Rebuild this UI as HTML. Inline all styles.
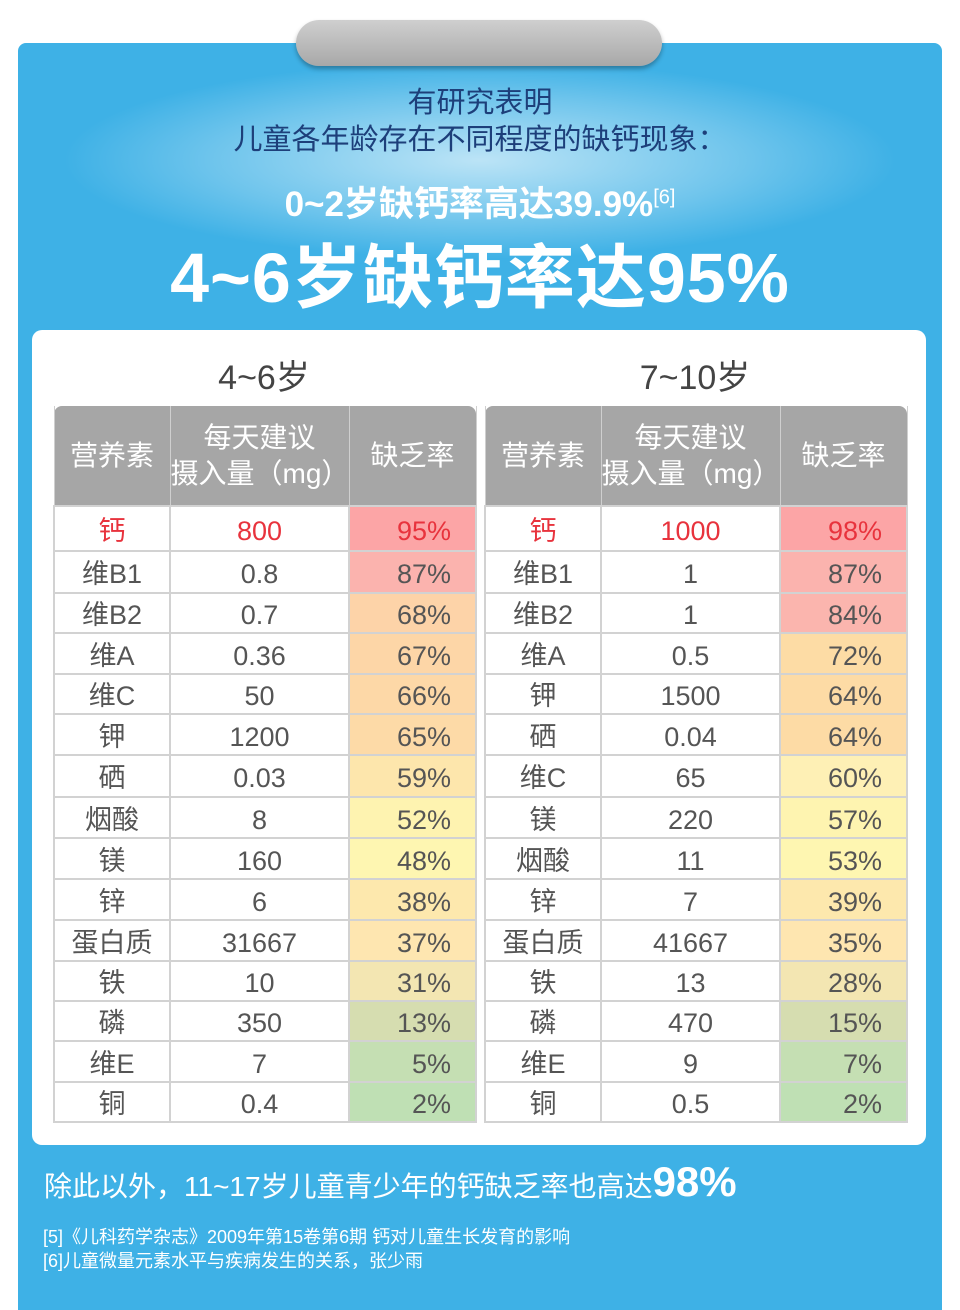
<!DOCTYPE html>
<html><head><meta charset="utf-8"><style>
*{margin:0;padding:0;box-sizing:border-box}
html,body{width:960px;height:1310px;overflow:hidden}
body{background:#fff;position:relative;font-family:"Liberation Sans","Noto Sans CJK SC",sans-serif}
.panel{position:absolute;left:18px;top:43px;width:924px;height:1290px;background:#3eb1e6;border-radius:8px}
.glow{position:absolute;left:60px;top:60px;width:840px;height:200px;background:radial-gradient(ellipse at center,rgba(255,255,255,.65) 0%,rgba(255,255,255,.25) 45%,rgba(255,255,255,0) 70%)}
.pill{position:absolute;left:296px;top:20px;width:366px;height:46px;border-radius:23px;background:linear-gradient(#cfcfcf,#a8a8a8);box-shadow:0 3px 5px rgba(0,0,0,.3)}
.t{position:absolute;left:0;width:960px;text-align:center}
.card{position:absolute;left:32px;top:330px;width:894px;height:815px;background:#fff;border-radius:10px}
table{position:absolute;border-collapse:collapse;font-size:27px;color:#555;table-layout:fixed}
td{border:2px solid #d2d2d2;text-align:center;padding:4px 0 0 0;line-height:28px;overflow:hidden}
th{background:#a6a6a6;color:#fff;font-weight:normal;font-size:28px;line-height:36px;border-left:1px solid #cfcfcf;border-right:1px solid #cfcfcf}
.r{color:#e8333d}
td.p{text-align:right;padding-right:24px}
</style></head><body>
<div class="panel"></div>
<div class="glow"></div>
<div class="pill"></div>
<div class="t" style="top:85px;font-size:29px;line-height:37px;color:#1d3f7a">有研究表明<br>儿童各年龄存在不同程度的缺钙现象：</div>
<div class="t" style="top:176px;font-size:35px;color:#fff;font-weight:bold">0~2岁缺钙率高达39.9%<sup style="font-size:20px;font-weight:normal">[6]</sup></div>
<div class="t" style="top:222px;font-size:70px;color:#fff;font-weight:bold;letter-spacing:1px">4~6岁缺钙率达95%</div>
<div class="card"></div>
<div style="position:absolute;left:53px;width:422px;top:350px;text-align:center;font-size:34px;color:#444">4~6岁</div>
<div style="position:absolute;left:484px;width:422px;top:350px;text-align:center;font-size:34px;color:#444">7~10岁</div>
<table style="left:53px;top:406px;width:422px">
<colgroup><col style="width:116px"><col style="width:179px"><col style="width:127px"></colgroup>
<tr style="height:100px"><th style="border-radius:8px 0 0 0">营养素</th><th>每天建议<br>摄入量（mg）</th><th style="border-radius:0 8px 0 0">缺乏率</th></tr>
<tr style="height:45px" class="r"><td>钙</td><td>800</td><td class="p" style="background:#fca5a6">95%</td></tr>
<tr style="height:42px"><td>维B1</td><td>0.8</td><td class="p" style="background:#fbb3ae">87%</td></tr>
<tr style="height:40px"><td>维B2</td><td>0.7</td><td class="p" style="background:#fdd3a8">68%</td></tr>
<tr style="height:41px"><td>维A</td><td>0.36</td><td class="p" style="background:#fdd6a7">67%</td></tr>
<tr style="height:40px"><td>维C</td><td>50</td><td class="p" style="background:#fdd8a7">66%</td></tr>
<tr style="height:41px"><td>钾</td><td>1200</td><td class="p" style="background:#fddaa7">65%</td></tr>
<tr style="height:42px"><td>硒</td><td>0.03</td><td class="p" style="background:#fde6ac">59%</td></tr>
<tr style="height:41px"><td>烟酸</td><td>8</td><td class="p" style="background:#fef3b0">52%</td></tr>
<tr style="height:41px"><td>镁</td><td>160</td><td class="p" style="background:#fef6b1">48%</td></tr>
<tr style="height:41px"><td>锌</td><td>6</td><td class="p" style="background:#fde8ad">38%</td></tr>
<tr style="height:41px"><td>蛋白质</td><td>31667</td><td class="p" style="background:#fee6b0">37%</td></tr>
<tr style="height:40px"><td>铁</td><td>10</td><td class="p" style="background:#f3e6b2">31%</td></tr>
<tr style="height:40px"><td>磷</td><td>350</td><td class="p" style="background:#d6ddb0">13%</td></tr>
<tr style="height:41px"><td>维E</td><td>7</td><td class="p" style="background:#c5dfb3">5%</td></tr>
<tr style="height:40px"><td>铜</td><td>0.4</td><td class="p" style="background:#bfe0b4">2%</td></tr>
</table>
<table style="left:484px;top:406px;width:422px">
<colgroup><col style="width:116px"><col style="width:179px"><col style="width:127px"></colgroup>
<tr style="height:100px"><th style="border-radius:8px 0 0 0">营养素</th><th>每天建议<br>摄入量（mg）</th><th style="border-radius:0 8px 0 0">缺乏率</th></tr>
<tr style="height:45px" class="r"><td>钙</td><td>1000</td><td class="p" style="background:#fca5a6">98%</td></tr>
<tr style="height:42px"><td>维B1</td><td>1</td><td class="p" style="background:#fbb3ae">87%</td></tr>
<tr style="height:40px"><td>维B2</td><td>1</td><td class="p" style="background:#fbb5ae">84%</td></tr>
<tr style="height:41px"><td>维A</td><td>0.5</td><td class="p" style="background:#fddca5">72%</td></tr>
<tr style="height:40px"><td>钾</td><td>1500</td><td class="p" style="background:#fddba5">64%</td></tr>
<tr style="height:41px"><td>硒</td><td>0.04</td><td class="p" style="background:#fddba5">64%</td></tr>
<tr style="height:42px"><td>维C</td><td>65</td><td class="p" style="background:#fef0b5">60%</td></tr>
<tr style="height:41px"><td>镁</td><td>220</td><td class="p" style="background:#fef4b0">57%</td></tr>
<tr style="height:41px"><td>烟酸</td><td>11</td><td class="p" style="background:#fef6b1">53%</td></tr>
<tr style="height:41px"><td>锌</td><td>7</td><td class="p" style="background:#fde8ad">39%</td></tr>
<tr style="height:41px"><td>蛋白质</td><td>41667</td><td class="p" style="background:#fee6b0">35%</td></tr>
<tr style="height:40px"><td>铁</td><td>13</td><td class="p" style="background:#f3e6b2">28%</td></tr>
<tr style="height:40px"><td>磷</td><td>470</td><td class="p" style="background:#d6ddb0">15%</td></tr>
<tr style="height:41px"><td>维E</td><td>9</td><td class="p" style="background:#c5dfb3">7%</td></tr>
<tr style="height:40px"><td>铜</td><td>0.5</td><td class="p" style="background:#bfe0b4">2%</td></tr>
</table>
<div style="position:absolute;left:44px;top:1158px;color:#fff;font-size:28px;white-space:nowrap">除此以外，11~17岁儿童青少年的钙缺乏率也高达<span style="font-size:42px;font-weight:bold">98%</span></div>
<div style="position:absolute;left:43px;top:1225px;color:#fff;font-size:18px;line-height:24px;white-space:nowrap">[5]《儿科药学杂志》2009年第15卷第6期 钙对儿童生长发育的影响<br>[6]儿童微量元素水平与疾病发生的关系，张少雨</div>
</body></html>
